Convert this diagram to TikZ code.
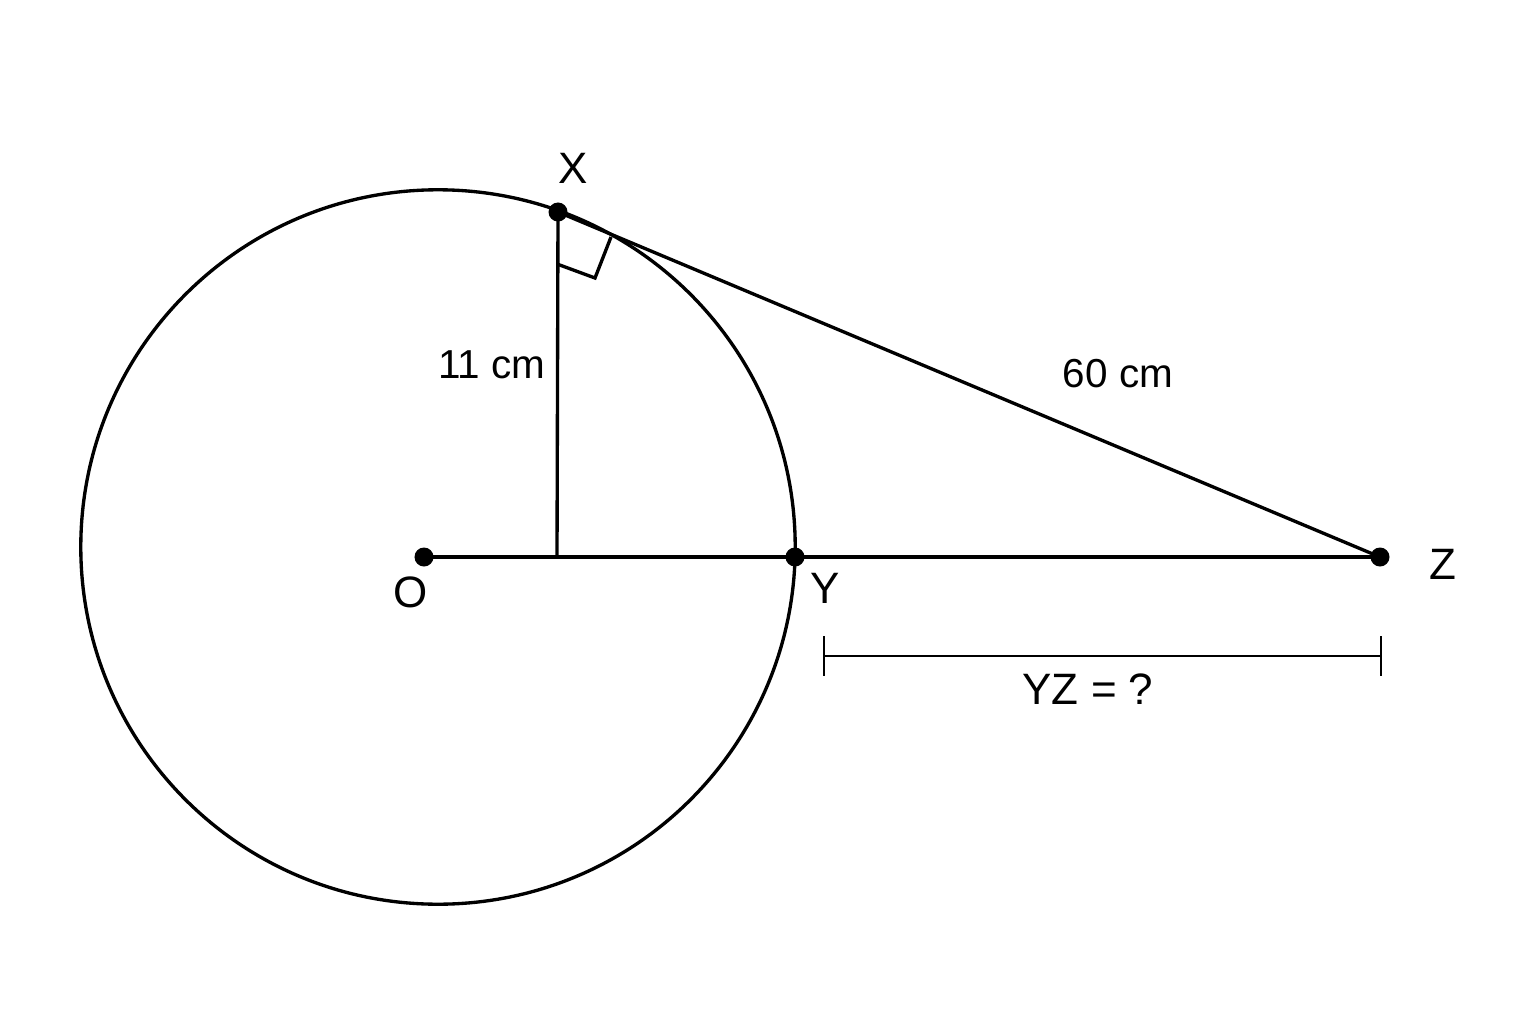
\documentclass[tikz,border=0pt]{standalone}
\usepackage{fontspec}
\setmainfont{Liberation Sans}
\usepackage{tikz}
\usetikzlibrary{arrows.meta,positioning}

\begin{document}
\begin{tikzpicture}[x=0.01cm,y=-0.01cm,on grid,line width=0.95pt]
    \tikzstyle{pt_dot}=[circle,fill=black,inner sep=0pt,minimum size=0.19cm]
    \tikzstyle{pt_label}=[font=\fontsize{12.5}{14}\selectfont,inner sep=0pt]
    \tikzstyle{len_label}=[font=\fontsize{11.5}{13}\selectfont,inner sep=0pt]
    \useasboundingbox (0,0) rectangle (1536,1024);

    % circle
    \draw (438,547) circle [radius=3.57cm];

    % points
    \coordinate (O) at (424,557);
    \coordinate (X) at (558,212);
    \coordinate (Y) at (795,557);
    \coordinate (Z) at (1380,557);
    \coordinate (H) at (557,557);

    % segments
    \draw (O) -- (Y) -- (Z);
    \draw (X) -- (H);
    \draw (X) -- (Z);
    \draw (557,264) -- (595,278) -- (611,237);

    \node[pt_dot] (dot_O) at (O) {};
    \node[pt_dot] (dot_X) at (X) {};
    \node[pt_dot] (dot_Y) at (Y) {};
    \node[pt_dot] (dot_Z) at (Z) {};

    \node[pt_label] (lab_X) [above right=0.44cm and 0.15cm of dot_X] {X};
    \node[pt_label] (lab_O) [below left=0.35cm and 0.13cm of dot_O] {O};
    \node[pt_label] (lab_Y) [below right=0.31cm and 0.30cm of dot_Y] {Y};
    \node[pt_label] (lab_Z) [below right=0.07cm and 0.63cm of dot_Z] {Z};

    \node[len_label] (len_XO) at (492,365) {11 cm};
    \node[len_label] (len_XZ) at (1118,374) {60 cm};

    % YZ marker
    \coordinate (dim_l) at (823,656);
    \coordinate (dim_r) at (1382,656);
    \draw[line width=0.65pt,{Bar[width=0.39cm]}-{Bar[width=0.39cm]}] (dim_l) -- (dim_r);
    \node[pt_label] (lab_YZ) at (1088,689) {YZ = ?};

\end{tikzpicture}
\end{document}
